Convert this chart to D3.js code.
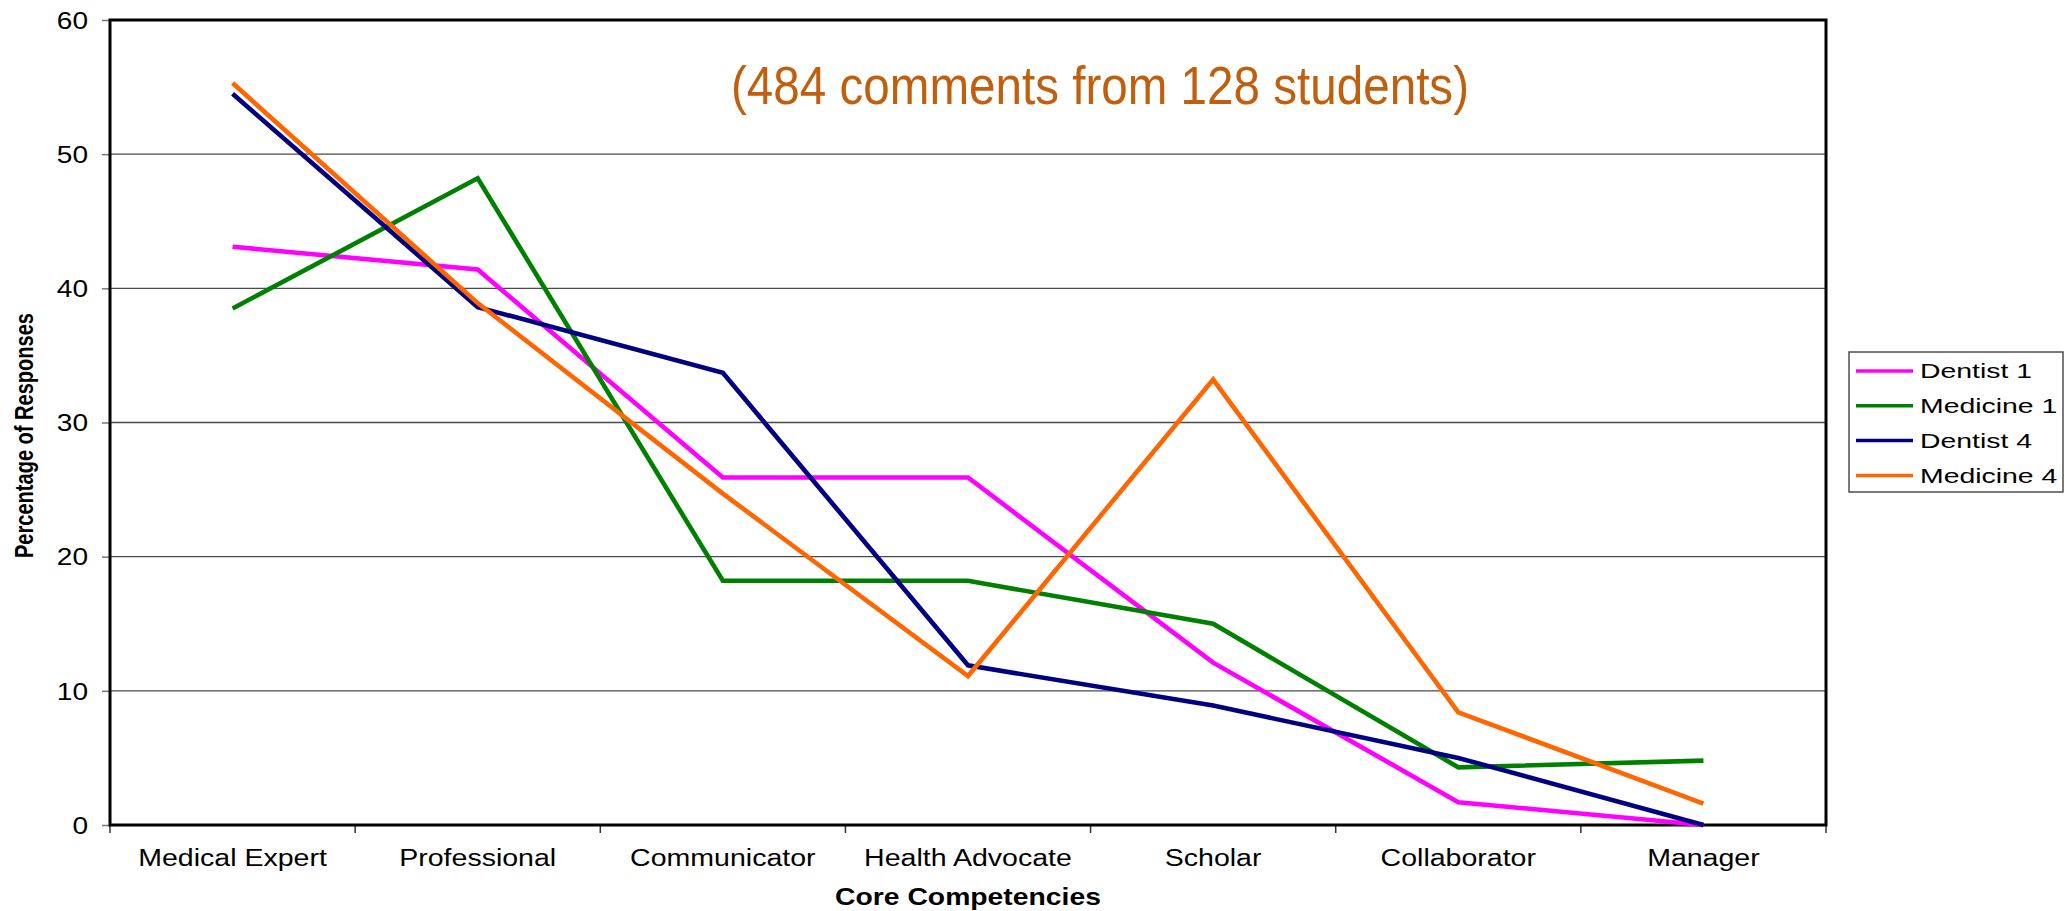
<html>

<head>
  <title>Core Competencies</title>
  <script src="https://d3js.org/d3.v7.min.js"></script>
  <style>
    body { margin: 0; background: #fff; }
    text { font-family: "Liberation Sans", Arial, sans-serif; }
  </style>
</head>

<body>
  <div id="chart"></div>

  <script type="text/javascript">

    // values (percentage of responses)
    var categories = ['Medical Expert', 'Professional', 'Communicator', 'Health Advocate', 'Scholar', 'Collaborator', 'Manager'];
    var seriesNames = ['Dentist 1', 'Medicine 1', 'Dentist 4', 'Medicine 4'];
    var dentist1 = [43.1, 41.4, 25.9, 25.9, 12.1, 1.7, 0];
    var medicine1 = [38.5, 48.2, 18.2, 18.2, 15.0, 4.3, 4.8];
    var dentist4 = [54.5, 38.6, 33.7, 11.9, 8.9, 5.0, 0];
    var medicine4 = [55.3, 38.9, 24.7, 11.1, 33.2, 8.4, 1.6];
    var yTicks = [0, 10, 20, 30, 40, 50, 60];
    var note = '(484 comments from 128 students)';

    var seriesValues = [dentist1, medicine1, dentist4, medicine4];
    var colors = ['#FF00FF', '#008000', '#000080', '#FF6600'];

    // plot area (don't call these top/left, window.top is read-only)
    var plotL = 110, plotR = 1826, plotT = 20, plotB = 825;

    var x = d3.scaleBand().domain(categories).range([plotL, plotR]);
    var y = d3.scaleLinear().domain([0, 60]).range([plotB, plotT]);
    var color = d3.scaleOrdinal().domain(seriesNames).range(colors);

    var svg = d3.select('#chart')
                .append('svg')
                  .attr('width', 2065)
                  .attr('height', 911);

    // stretch text horizontally, the original is wider than plain Arial
    function stretch(sel, k) {
      sel.each(function() {
        var len = this.getComputedTextLength();
        d3.select(this).attr('textLength', len * k).attr('lengthAdjust', 'spacingAndGlyphs');
      });
    }

    // gridlines
    svg.append('g')
       .selectAll('line')
       .data(yTicks.slice(1, -1))
       .enter().append('line')
         .attr('x1', plotL)
         .attr('x2', plotR)
         .attr('y1', function(d) { return y(d); })
         .attr('y2', function(d) { return y(d); })
         .attr('stroke', '#4a4a4a')
         .attr('stroke-width', 1.3);

    // y axis
    var yAxis = d3.axisLeft(y).tickValues(yTicks).tickSize(8).tickPadding(14);
    var yg = svg.append('g')
                .attr('transform', 'translate(' + plotL + ',0)')
                .call(yAxis);
    yg.select('.domain').remove();
    yg.selectAll('line').attr('stroke', '#777').attr('stroke-width', 1.5);
    yg.selectAll('text')
      .attr('font-size', 23)
      .attr('font-family', '"Liberation Sans", Arial, sans-serif')
      .attr('fill', '#000')
      .attr('dy', '0.36em')
      .call(stretch, 1.22);

    // x axis: ticks on category boundaries, labels in the middle
    var bounds = categories.map(function(c) { return x(c); }).concat([plotR]);
    svg.append('g')
       .selectAll('line')
       .data(bounds)
       .enter().append('line')
         .attr('x1', function(d) { return d; })
         .attr('x2', function(d) { return d; })
         .attr('y1', plotB)
         .attr('y2', plotB + 8)
         .attr('stroke', '#333')
         .attr('stroke-width', 1.5);

    svg.append('g')
       .selectAll('text')
       .data(categories)
       .enter().append('text')
         .attr('x', function(d) { return x(d) + x.bandwidth() / 2; })
         .attr('y', plotB + 41)
         .attr('text-anchor', 'middle')
         .attr('font-size', 23)
         .attr('fill', '#000')
         .text(function(d) { return d; })
         .call(stretch, 1.24);

    // plot border
    svg.append('rect')
       .attr('x', plotL)
       .attr('y', plotT)
       .attr('width', plotR - plotL)
       .attr('height', plotB - plotT)
       .attr('fill', 'none')
       .attr('stroke', '#000')
       .attr('stroke-width', 3);

    // series lines
    var line = d3.line()
                 .x(function(d, i) { return x(categories[i]) + x.bandwidth() / 2; })
                 .y(function(d) { return y(d); });

    svg.append('g')
       .selectAll('path')
       .data(seriesValues)
       .enter().append('path')
         .attr('d', line)
         .attr('fill', 'none')
         .attr('stroke', function(d, i) { return color(seriesNames[i]); })
         .attr('stroke-width', 4.6)
         .attr('stroke-linejoin', 'miter');

    // note
    svg.append('text')
       .attr('x', 731)
       .attr('y', 104)
       .attr('font-size', 54)
       .attr('fill', '#C0600F')
       .attr('textLength', 738)
       .attr('lengthAdjust', 'spacingAndGlyphs')
       .text(note);

    // axis titles
    svg.append('text')
       .attr('x', (plotL + plotR) / 2)
       .attr('y', 905)
       .attr('text-anchor', 'middle')
       .attr('font-size', 24)
       .attr('font-weight', 'bold')
       .text('Core Competencies')
       .call(stretch, 1.18);

    svg.append('text')
       .attr('transform', 'translate(33,558) rotate(-90)')
       .attr('font-size', 25)
       .attr('font-weight', 'bold')
       .attr('textLength', 245)
       .attr('lengthAdjust', 'spacingAndGlyphs')
       .text('Percentage of Responses');

    // legend
    var legend = svg.append('g').attr('transform', 'translate(1849,352)');
    legend.append('rect')
          .attr('x', 0)
          .attr('y', 0)
          .attr('width', 214)
          .attr('height', 140)
          .attr('fill', '#fff')
          .attr('stroke', '#333')
          .attr('stroke-width', 1.3);

    var items = legend.selectAll('.item')
                      .data(seriesNames)
                      .enter().append('g')
                        .attr('class', 'item')
                        .attr('transform', function(d, i) { return 'translate(0,' + (19 + i * 34.8) + ')'; });

    items.append('line')
         .attr('x1', 7)
         .attr('x2', 64)
         .attr('stroke', function(d) { return color(d); })
         .attr('stroke-width', 3.5);

    items.append('text')
         .attr('x', 71)
         .attr('dy', '0.36em')
         .attr('font-size', 20)
         .attr('fill', '#000')
         .text(function(d) { return d; })
         .call(stretch, 1.42);

  </script>
</body>

</html>
